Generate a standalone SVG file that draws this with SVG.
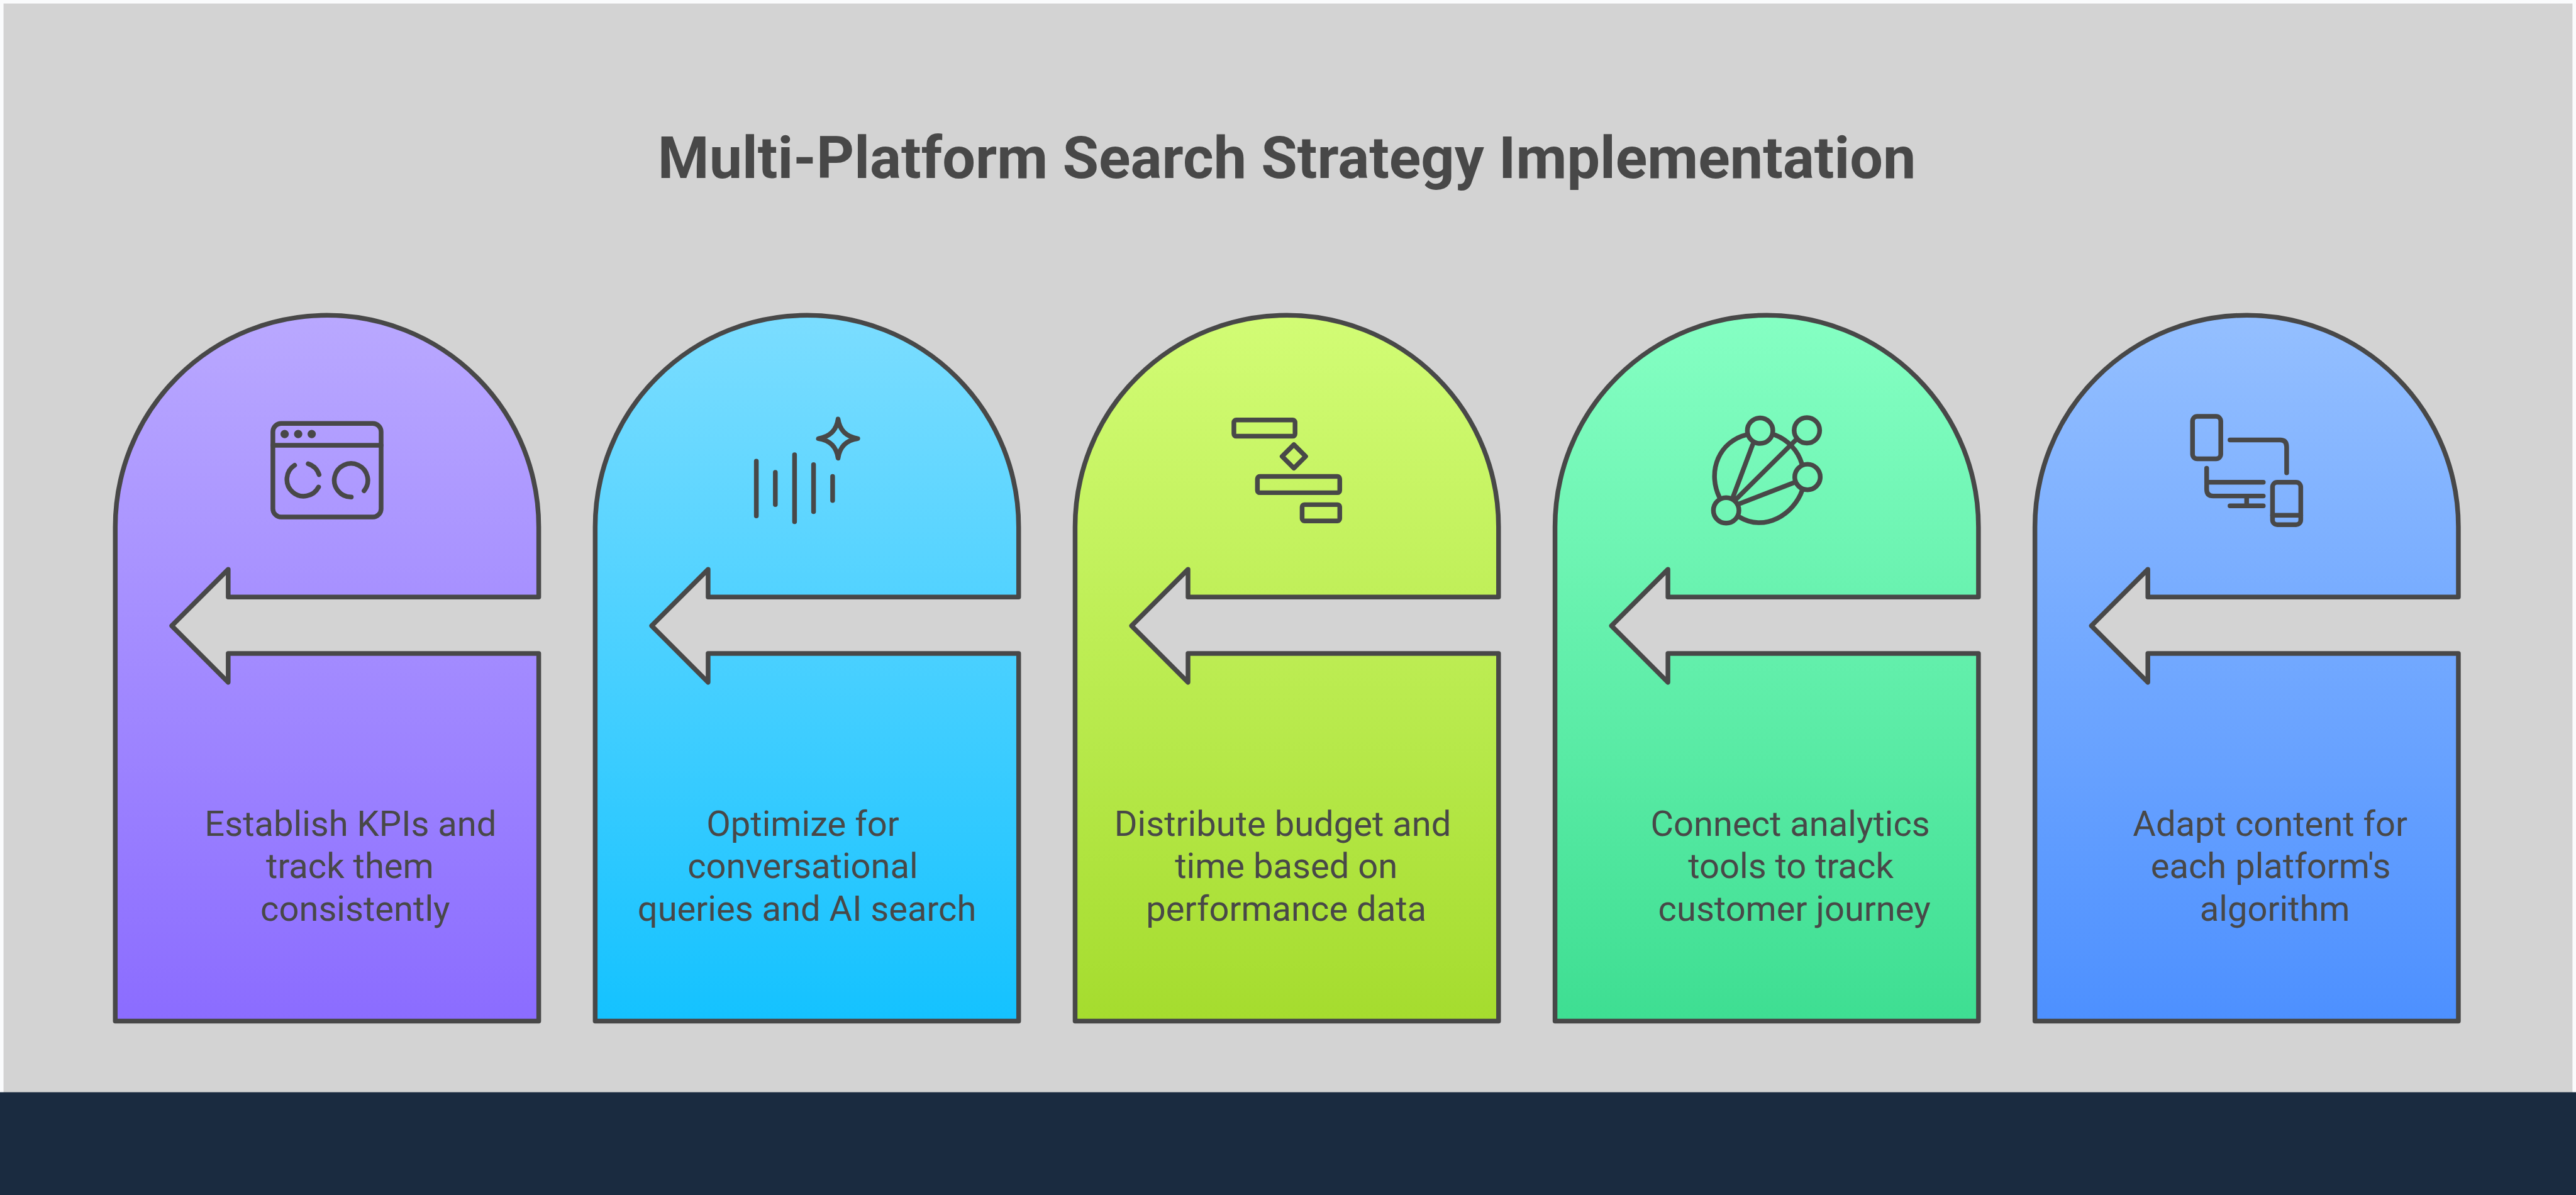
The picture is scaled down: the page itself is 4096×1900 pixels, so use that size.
<svg xmlns="http://www.w3.org/2000/svg" width="4096" height="1900" viewBox="0 0 4096 1900">
<defs>
<style>
.s{stroke:#484848;stroke-width:8;stroke-linejoin:round;stroke-linecap:round}
.i{fill:none;stroke:#484848;stroke-width:8;stroke-linejoin:round;stroke-linecap:round}
.t{font-family:Roboto,"Liberation Sans",sans-serif;font-size:60px;fill:#484848;text-anchor:middle}
.h{font-family:Roboto,"Liberation Sans",sans-serif;font-size:100px;font-weight:700;fill:#484848;text-anchor:middle}
</style>
<linearGradient id="g1" x1="0" y1="0" x2="0" y2="1"><stop offset="0" stop-color="#B9A8FF"/><stop offset="1" stop-color="#8B6CFF"/></linearGradient>
<linearGradient id="g2" x1="0" y1="0" x2="0" y2="1"><stop offset="0" stop-color="#7BDDFF"/><stop offset="1" stop-color="#14C2FF"/></linearGradient>
<linearGradient id="g3" x1="0" y1="0" x2="0" y2="1"><stop offset="0" stop-color="#D2FC75"/><stop offset="1" stop-color="#A5DC2E"/></linearGradient>
<linearGradient id="g4" x1="0" y1="0" x2="0" y2="1"><stop offset="0" stop-color="#85FFC3"/><stop offset="1" stop-color="#3EDE92"/></linearGradient>
<linearGradient id="g5" x1="0" y1="0" x2="0" y2="1"><stop offset="0" stop-color="#94BFFF"/><stop offset="1" stop-color="#4D90FF"/></linearGradient>
<path id="arch" d="M0 360A360 360 0 0 1 720 360V479H192V432L96 528L192 624V575H720V1200H0Z"/>
</defs>
<rect width="4096" height="1900" fill="#FAFBFC"/>
<g transform="scale(0.93516)">
<rect id="panel" x="6" y="6" width="4368" height="1860" fill="#D3D3D3"/>
<rect id="footer" x="0" y="1857" width="4380" height="175" fill="#1A2B40"/>
<text id="title" class="h" x="2188" y="303">Multi-Platform Search Strategy Implementation</text>
<g id="connectors"/>
<g id="node1">
<use href="#arch" x="196" y="536" class="s" fill="url(#g1)"/>
<rect class="i" x="464" y="720" width="184" height="159" rx="14"/>
<path class="i" d="M464 757H648"/>
<circle cx="484" cy="738" r="7" fill="#484848"/><circle cx="507" cy="738" r="7" fill="#484848"/><circle cx="530" cy="738" r="7" fill="#484848"/>
<path class="i" d="M501 791A28.5 28.5 0 1 0 541.700 828"/>
<path class="i" d="M524 788.500A28.500 28.500 0 0 1 542.500 807"/>
<path class="i" d="M619 834.500A28.500 28.500 0 1 0 597.300 845"/>
<text class="t" x="596" y="1421">Establish KPIs and</text>
<text class="t" x="595" y="1493">track them</text>
<text class="t" x="604" y="1565">consistently</text>
</g>
<g id="node2">
<use href="#arch" x="1012" y="536" class="s" fill="url(#g2)"/>
<path class="i" d="M1286 784V877M1318.300 803V858M1351 773V887M1383.300 790V870M1415.700 810V851"/>
<path class="i" d="M1425 712.500Q1429 741 1458.500 745.700Q1429 750 1425 779Q1421 750 1391.500 745.700Q1421 741 1425 712.500Z"/>
<text class="t" x="1365" y="1421">Optimize for</text>
<text class="t" x="1365" y="1493">conversational</text>
<text class="t" x="1372" y="1565">queries and AI search</text>
</g>
<g id="node3">
<use href="#arch" x="1828" y="536" class="s" fill="url(#g3)"/>
<rect class="i" x="2098" y="714" width="104" height="27.700" rx="4"/>
<path class="i" d="M2200 756L2220 776L2200 796L2180 776Z"/>
<rect class="i" x="2138" y="810" width="140" height="27.700" rx="4"/>
<rect class="i" x="2214" y="858" width="64" height="27.700" rx="4"/>
<text class="t" x="2181" y="1421">Distribute budget and</text>
<text class="t" x="2187" y="1493">time based on</text>
<text class="t" x="2187" y="1565">performance data</text>
</g>
<g id="node4">
<use href="#arch" x="2644" y="536" class="s" fill="url(#g4)"/>
<circle class="i" cx="2992.700" cy="732.300" r="21.700"/><circle class="i" cx="3072.300" cy="731.700" r="21.700"/><circle class="i" cx="3073.300" cy="811" r="21.700"/><circle class="i" cx="2935" cy="867.700" r="21.700"/>
<path class="i" d="M2923.500 845.500C2902 800 2924 750 2970 739M3018 739.500C3040 748 3057 766 3063.500 788M3064.500 833C3050 875 3000 905 2957.500 879"/>
<path class="i" d="M2980 756L2946 846.700M3053 748.300L2950.700 850M3050 820.700L2956.700 856.700"/>
<text class="t" x="3044" y="1421">Connect analytics</text>
<text class="t" x="3045" y="1493">tools to track</text>
<text class="t" x="3051" y="1565">customer journey</text>
</g>
<g id="node5">
<use href="#arch" x="3460" y="536" class="s" fill="url(#g5)"/>
<rect class="i" x="3728" y="708" width="48" height="72" rx="8"/>
<path class="i" d="M3791.700 748H3877Q3888 748 3888 760V804M3752 796V832Q3752 843.300 3763 843.300H3848.300M3752 820H3848.300M3820 843.300V860M3791.700 860H3848.300"/>
<rect class="i" x="3864" y="820" width="48" height="72" rx="8"/>
<path class="i" d="M3864 876H3912"/>
<text class="t" x="3860" y="1421">Adapt content for</text>
<text class="t" x="3861" y="1493">each platform's</text>
<text class="t" x="3868" y="1565">algorithm</text>
</g>
</g>
</svg>
